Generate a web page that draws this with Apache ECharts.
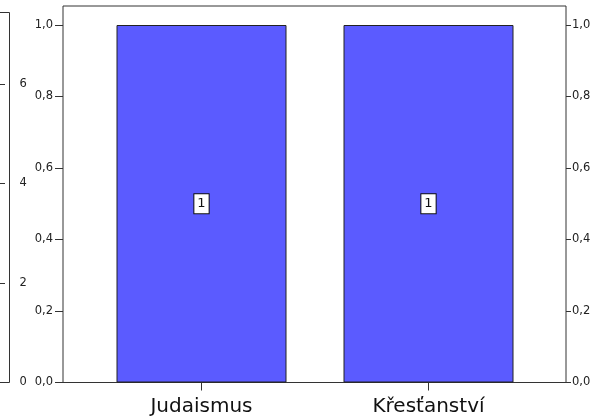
<!DOCTYPE html>
<html>
<head>
<meta charset="utf-8">
<script src="https://cdn.jsdelivr.net/npm/echarts@6/dist/echarts.min.js"></script>
<style>
html,body{margin:0;padding:0;background:#fff;}
#c{width:594px;height:416px;}
</style>
</head>
<body>
<div id="c"></div>
<script>
const categories = ['Judaismus', 'Křesťanství'];
const values = [1, 1];
const barLabels = ['1', '1'];
const yMin = 0, yMax = 1.0, yStep = 0.2;
const sideMin = 0, sideMax = 6, sideStep = 2;

const chart = echarts.init(document.getElementById('c'));
const lineCol = '#333';
const font = 'DejaVu Sans';
const fmt = v => v.toFixed(1).replace('.', ',');
const nb = {outerBoundsMode: 'none', containLabel: false};

chart.setOption({
  animation: false,
  backgroundColor: '#fff',
  grid: [
    Object.assign({left: 63, right: 28, top: 25, bottom: 33.5}, nb),
    Object.assign({left: 63, right: 28, top: 6, bottom: 33.5, show: true, borderColor: lineCol, borderWidth: 1, backgroundColor: 'transparent'}, nb),
    Object.assign({left: 88, width: 454, top: 25, bottom: 33.5}, nb),
    Object.assign({left: -3, width: 12.5, top: 84, bottom: 33.5}, nb),
    Object.assign({left: -3, width: 12.5, top: 12.5, bottom: 33.5, show: true, borderColor: lineCol, borderWidth: 1, backgroundColor: 'transparent'}, nb)
  ],
  xAxis: [
    {gridIndex: 0, type: 'value', show: false},
    {gridIndex: 1, type: 'value', show: false},
    {gridIndex: 2, type: 'category', data: categories,
      axisLine: {show: false},
      axisTick: {show: true, alignWithLabel: true, length: 8, lineStyle: {color: lineCol}},
      axisLabel: {fontFamily: font, fontSize: 20, color: '#111', margin: 14}},
    {gridIndex: 3, type: 'value', show: false},
    {gridIndex: 4, type: 'value', show: false}
  ],
  yAxis: [
    {gridIndex: 0, type: 'value', position: 'left', min: yMin, max: yMax, interval: yStep,
      axisLine: {show: false}, splitLine: {show: false},
      axisTick: {show: true, inside: false, length: 8, lineStyle: {color: lineCol}},
      axisLabel: {formatter: fmt, fontFamily: font, fontSize: 11.5, color: '#222', margin: 10}},
    {gridIndex: 0, type: 'value', position: 'right', min: yMin, max: yMax, interval: yStep,
      axisLine: {show: false}, splitLine: {show: false},
      axisTick: {show: true, inside: false, length: 5, lineStyle: {color: lineCol}},
      axisLabel: {formatter: fmt, fontFamily: font, fontSize: 11.5, color: '#222', margin: 6}},
    {gridIndex: 1, type: 'value', show: false},
    {gridIndex: 2, type: 'value', min: yMin, max: yMax, show: false},
    {gridIndex: 3, type: 'value', position: 'right', min: sideMin, max: sideMax, interval: sideStep,
      axisLine: {show: true, lineStyle: {color: lineCol}}, splitLine: {show: false},
      axisTick: {show: true, inside: false, length: 8, lineStyle: {color: lineCol}},
      axisLabel: {fontFamily: font, fontSize: 11.5, color: '#222', margin: 10}},
    {gridIndex: 4, type: 'value', show: false}
  ],
  series: [{
    type: 'bar',
    xAxisIndex: 2, yAxisIndex: 3,
    data: values,
    barWidth: 170,
    itemStyle: {color: '#5b5bff', borderColor: '#222', borderWidth: 1},
    label: {
      show: true, position: 'inside',
      formatter: p => barLabels[p.dataIndex],
      fontFamily: font, fontSize: 13, color: '#111',
      backgroundColor: '#fff', borderColor: '#111', borderWidth: 1,
      padding: [4, 3, 2, 3]
    }
  }]
});
</script>
</body>
</html>
